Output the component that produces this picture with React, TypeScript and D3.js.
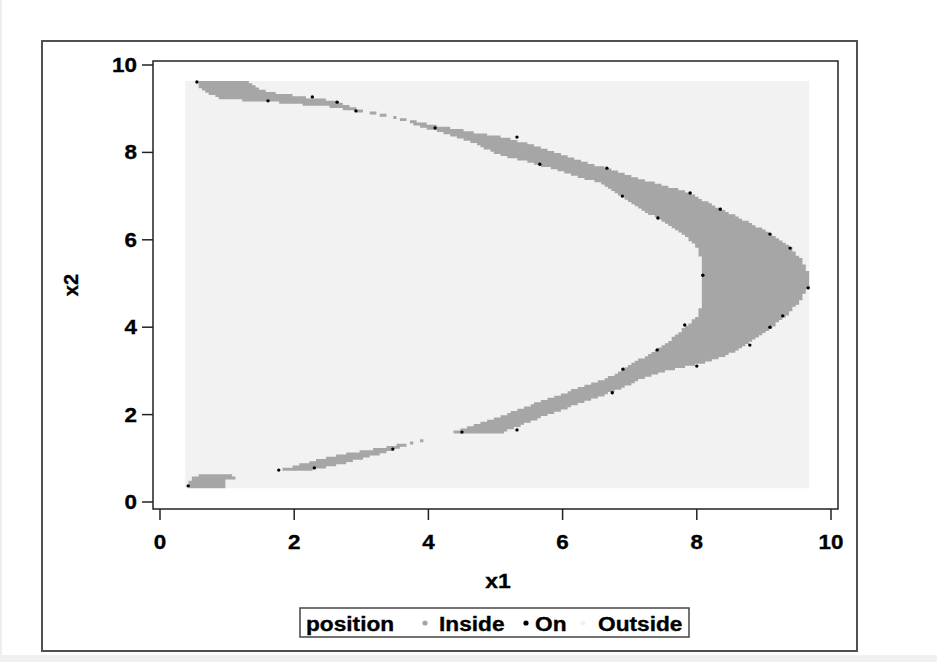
import React, { useMemo } from 'react';
import * as d3 from 'd3';

// ---- data ----
const X_TICKS = [0, 2, 4, 6, 8, 10];
const Y_TICKS = [0, 2, 4, 6, 8, 10];
const GRID_STEP = 0.05;
const X1_GRID = [0.4, 9.65];
const X2_GRID = [0.35, 9.6];

// Region classified "Inside" (data units x1,x2)
const INSIDE_MAIN: [number, number][] = [
  [0.54, 9.63], [1.31, 9.63], [1.45, 9.47], [1.68, 9.36], [2.09, 9.27], [2.58, 9.18],
  [2.83, 9.04], [3.03, 8.95], [3.58, 8.79], [4.02, 8.63], [4.62, 8.47], [5.07, 8.35],
  [5.56, 8.17], [6.07, 7.89], [6.56, 7.67], [7.05, 7.44], [7.56, 7.21], [7.85, 7.09],
  [8.15, 6.86], [8.54, 6.57], [9.05, 6.18], [9.39, 5.84], [9.54, 5.58], [9.64, 5.31],
  [9.7, 5.24], [9.7, 4.92], [9.64, 4.85], [9.54, 4.62], [9.39, 4.35], [9.2, 4.1],
  [8.99, 3.87], [8.79, 3.64], [8.54, 3.43], [8.24, 3.25], [7.94, 3.14], [7.56, 3.02],
  [7.2, 2.84], [6.86, 2.6], [6.56, 2.42], [6.11, 2.18], [5.66, 1.93], [5.22, 1.67],
  [5.07, 1.58], [4.35, 1.58], [4.47, 1.65], [5.07, 1.95], [5.66, 2.29], [6.26, 2.61],
  [6.71, 2.86], [7.15, 3.25], [7.56, 3.64], [7.79, 3.94], [8.0, 4.23], [8.08, 4.55],
  [8.09, 4.92], [8.08, 5.31], [8.05, 5.61], [8.0, 5.84], [7.85, 6.06], [7.56, 6.38],
  [7.2, 6.68], [6.86, 7.03], [6.56, 7.3], [6.07, 7.53], [5.56, 7.76], [5.07, 7.94],
  [4.62, 8.26], [4.02, 8.54], [3.58, 8.76], [3.03, 8.93], [2.91, 8.95], [2.58, 9.04],
  [2.28, 9.08], [1.59, 9.18], [1.24, 9.2], [0.89, 9.24], [0.79, 9.31], [0.6, 9.47],
];
const INSIDE_THIN: [number, number][] = [
  [1.76, 0.73], [2.09, 0.85], [2.34, 0.96], [2.83, 1.12], [3.32, 1.24], [3.73, 1.35],
  [3.92, 1.42], [3.92, 1.4], [3.83, 1.37], [3.32, 1.13], [2.83, 0.92], [2.34, 0.76],
  [2.09, 0.73], [1.76, 0.71],
];
const INSIDE_BLOB: [number, number][] = [
  [0.4, 0.34], [0.49, 0.55], [0.64, 0.62], [1.0, 0.64], [1.16, 0.57], [1.0, 0.5], [1.0, 0.34],
];
const INSIDE_REGIONS = [INSIDE_MAIN, INSIDE_THIN, INSIDE_BLOB];

// Points classified "On"
const ON_POINTS: [number, number][] = [
  [0.55, 9.61], [1.61, 9.18], [2.27, 9.27], [2.64, 9.15], [2.92, 8.95], [4.1, 8.56],
  [5.32, 8.35], [5.66, 7.73], [6.66, 7.64], [6.89, 7.0], [7.9, 7.07], [7.42, 6.5],
  [8.35, 6.7], [9.09, 6.13], [9.39, 5.81], [8.09, 5.19], [9.66, 4.9], [9.28, 4.26],
  [9.09, 4.0], [8.79, 3.59], [7.82, 4.05], [7.41, 3.48], [8.0, 3.11], [6.9, 3.04],
  [6.74, 2.5], [5.32, 1.65], [4.5, 1.6], [3.47, 1.21], [2.3, 0.78], [1.77, 0.73], [0.42, 0.37],
];

const LEGEND_TITLE = 'position';
const LEGEND_ITEMS = ['Inside', 'On', 'Outside'];
const COLORS: Record<string, string> = { Inside: '#a6a6a6', On: '#000000', Outside: '#f2f2f2' };

const FONT = '"Liberation Sans", Arial, Helvetica, sans-serif';

function SText({ x, y, anchor = 'start', size = 20, sx = 1.12, children }: any) {
  return (
    <text
      transform={`translate(${x},${y}) scale(${sx},1)`}
      textAnchor={anchor}
      fontSize={size}
      fontWeight="bold"
      fontFamily={FONT}
      fill="#000"
      stroke="#000"
      strokeWidth={0.35}
    >
      {children}
    </text>
  );
}

export default function App() {
  const x = d3.scaleLinear().domain([0, 10]).range([160, 831]);
  const y = d3.scaleLinear().domain([0, 10]).range([502, 65]);

  const runs = useMemo(() => {
    const nx = Math.round((X1_GRID[1] - X1_GRID[0]) / GRID_STEP) + 1;
    const ny = Math.round((X2_GRID[1] - X2_GRID[0]) / GRID_STEP) + 1;
    const xs = d3.range(nx).map((i) => +(X1_GRID[0] + i * GRID_STEP).toFixed(3));
    const ys = d3.range(ny).map((j) => +(X2_GRID[0] + j * GRID_STEP).toFixed(3));
    const out: { cls: string; x0: number; x1: number; v: number }[] = [];
    ys.forEach((v) => {
      let cur: string | null = null;
      let start = 0;
      xs.forEach((u, i) => {
        const inside = INSIDE_REGIONS.some((p) => d3.polygonContains(p, [u, v]));
        const cls = inside ? 'Inside' : 'Outside';
        if (cls !== cur) {
          if (cur !== null) out.push({ cls: cur, x0: xs[start], x1: xs[i - 1], v });
          cur = cls;
          start = i;
        }
      });
      if (cur !== null) out.push({ cls: cur, x0: xs[start], x1: xs[xs.length - 1], v });
    });
    return out;
  }, []);

  const h = GRID_STEP / 2;
  const classPath = (cls: string) => {
    const p = d3.path();
    runs
      .filter((r) => r.cls === cls)
      .forEach((r) => {
        const x0 = x(r.x0 - h);
        const x1 = x(r.x1 + h);
        const y0 = y(r.v + h) - 0.4;
        const y1 = y(r.v - h) + 0.4;
        p.moveTo(x0, y0);
        p.lineTo(x1, y0);
        p.lineTo(x1, y1);
        p.lineTo(x0, y1);
        p.closePath();
      });
    return p.toString();
  };

  return (
    <svg
      width={937}
      height={662}
      style={{ position: 'absolute', left: 0, top: 0, background: '#fff' }}
    >
      <rect x={0} y={0} width={2} height={662} fill="#eeeeee" />
      <rect x={0} y={655} width={937} height={7} fill="#f0f0f0" />
      <rect x={42} y={41} width={815} height={610} fill="none" stroke="#505050" strokeWidth={2} />

      {/* data */}
      <path d={classPath('Outside')} fill={COLORS.Outside} />
      <path d={classPath('Inside')} fill={COLORS.Inside} />
      <g>
        {ON_POINTS.map((p, i) => (
          <circle key={i} cx={x(p[0])} cy={y(p[1])} r={1.7} fill={COLORS.On} />
        ))}
      </g>

      {/* plot frame */}
      <rect x={153} y={61} width={685} height={448} fill="none" stroke="#222" strokeWidth={1.5} />

      {/* y axis */}
      {Y_TICKS.map((t) => (
        <g key={'y' + t}>
          <line x1={142} x2={153} y1={y(t)} y2={y(t)} stroke="#222" strokeWidth={1.5} />
          <SText x={137} y={y(t) + 7} anchor="end" size={20}>
            {t}
          </SText>
        </g>
      ))}
      {/* x axis */}
      {X_TICKS.map((t) => (
        <g key={'x' + t}>
          <line x1={x(t)} x2={x(t)} y1={509} y2={520} stroke="#222" strokeWidth={1.5} />
          <SText x={x(t)} y={549} anchor="middle" size={20}>
            {t}
          </SText>
        </g>
      ))}
      <SText x={498} y={588} anchor="middle" size={20.5}>
        x1
      </SText>
      <text
        transform="translate(78,285) rotate(-90)"
        textAnchor="middle"
        fontSize={20}
        fontWeight="bold"
        fontFamily={FONT}
        stroke="#000"
        strokeWidth={0.35}
      >
        x2
      </text>

      {/* legend */}
      <rect x={300} y={608} width={389} height={29} fill="#fff" stroke="#444" strokeWidth={1.5} />
      <SText x={306} y={631} size={21} sx={1.08}>
        {LEGEND_TITLE}
      </SText>
      {LEGEND_ITEMS.map((k, i) => {
        const dotX = [425, 526, 583][i];
        const txtX = [439, 535, 598][i];
        return (
          <g key={k}>
            <circle cx={dotX} cy={623} r={2.6} fill={COLORS[k]} />
            <SText x={txtX} y={631} size={21} sx={1.08}>
              {k}
            </SText>
          </g>
        );
      })}
    </svg>
  );
}
